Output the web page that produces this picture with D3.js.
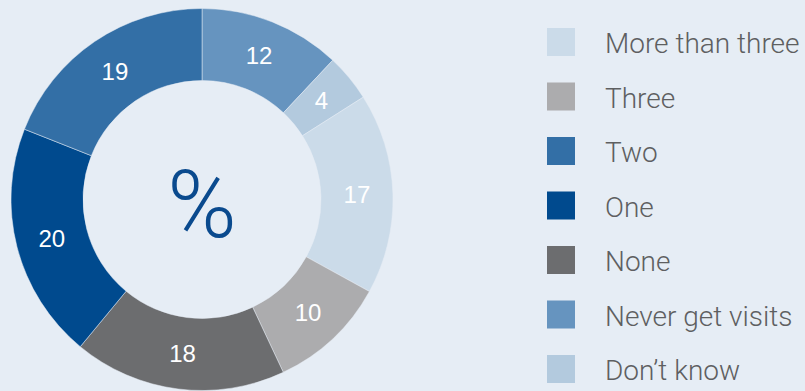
<!DOCTYPE html>
<html>
<head>
<meta charset="utf-8">
<script src="https://cdn.jsdelivr.net/npm/d3@7"></script>
<style>
  html, body { margin: 0; padding: 0; background: #e6edf5; }
  svg { display: block; }
</style>
</head>
<body>
<svg id="chart" width="805" height="391"></svg>
<script>
// Slices, clockwise from twelve o'clock
const categories = ["Never get visits", "Don’t know", "More than three", "Three", "None", "One", "Two"];
const values = [12, 4, 17, 10, 18, 20, 19];
// Legend reading order
const legendOrder = ["More than three", "Three", "Two", "One", "None", "Never get visits", "Don’t know"];
const centreLabel = "%";

const color = d3.scaleOrdinal()
  .domain(["More than three", "Three", "Two", "One", "None", "Never get visits", "Don’t know"])
  .range(["#cbdbe9", "#acacae", "#336fa6", "#004a8e", "#6c6d6f", "#6694bf", "#b3cade"]);

const svg = d3.select("#chart");
const W = 805, H = 391;
svg.append("rect").attr("width", W).attr("height", H).attr("fill", "#e6edf5");

const cx = 202, cy = 199.5;
const outerR = 191, innerR = 119;

const pie = d3.pie().sort(null).value(d => d.value);
const arc = d3.arc().innerRadius(innerR).outerRadius(outerR);

const data = categories.map((c, i) => ({ category: c, value: values[i] }));
const arcs = pie(data);

const g = svg.append("g").attr("transform", `translate(${cx},${cy})`);

g.selectAll("path.slice")
  .data(arcs)
  .join("path")
  .attr("class", "slice")
  .attr("d", arc)
  .attr("fill", d => color(d.data.category))
  .attr("stroke", "#e6edf5")
  .attr("stroke-width", 0.5);

g.selectAll("text.value")
  .data(arcs)
  .join("text")
  .attr("class", "value")
  .attr("transform", d => `translate(${arc.centroid(d)})`)
  .attr("text-anchor", "middle")
  .attr("dy", "0.36em")
  .attr("fill", "#ffffff")
  .attr("font-family", "'Liberation Sans', Arial, sans-serif")
  .attr("font-size", 24)
  .text(d => d.data.value);

g.append("text")
  .attr("text-anchor", "middle")
  .attr("y", 37)
  .attr("fill", "#0a4a8e")
  .attr("font-family", "Roboto, 'Liberation Sans', sans-serif")
  .attr("font-weight", 300)
  .attr("font-size", 94)
  .text(centreLabel);

// Legend
const legend = svg.append("g").attr("transform", "translate(547,28)");
const rowH = 54.5;
const items = legend.selectAll("g.item")
  .data(legendOrder)
  .join("g")
  .attr("class", "item")
  .attr("transform", (d, i) => `translate(0,${i * rowH})`);

items.append("rect")
  .attr("width", 28)
  .attr("height", 28)
  .attr("fill", d => color(d));

items.append("text")
  .attr("x", 58)
  .attr("y", 15)
  .attr("dy", "0.36em")
  .attr("fill", "#5e5f61")
  .attr("font-family", "Roboto, 'Liberation Sans', sans-serif")
  .attr("font-weight", 300)
  .attr("font-size", 28)
  .text(d => d);
</script>
</body>
</html>
